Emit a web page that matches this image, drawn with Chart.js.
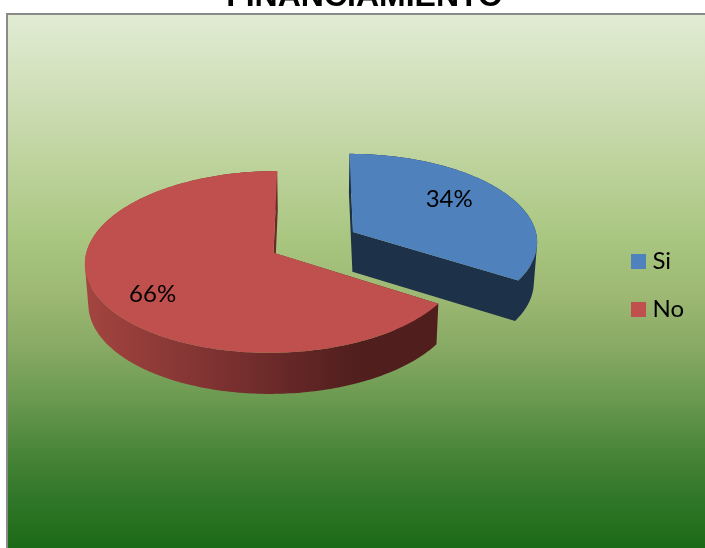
<!DOCTYPE html>
<html>
<head>
<meta charset="utf-8">
<title>Financiamiento</title>
<script src="https://cdn.jsdelivr.net/npm/chart.js@4"></script>
<style>
  html, body { margin: 0; padding: 0; background: #fff; overflow: hidden; }
  #wrap { width: 705px; height: 548px; }
</style>
</head>
<body>
<div id="wrap"><canvas id="pieChart" width="705" height="548"></canvas></div>
<script>
const categories = ['Si', 'No'];
const values = [34, 66];
const topColors = ['#4f81bd', '#c0504d'];

// 3D look of the pie
const EXPLODE = 0.245;     // slices pulled away from the centre, in radii
const PERSPECTIVE = -0.1;
const SQUASH = 0.475;
const DEPTH = 40;
const VIEW_DX = -10.5;     // pie centre relative to the chart area centre
const VIEW_DY = -40;

// small square used as legend marker, so the text sits close to it
function swatch(color) {
  const c = document.createElement('canvas');
  c.width = 15;
  c.height = 15;
  const g = c.getContext('2d');
  g.fillStyle = color;
  g.fillRect(0, 0, 15, 15);
  return c;
}

function project(arc, nx, ny, bottom) {
  const R = arc.outerRadius;
  const d = 1 + PERSPECTIVE * ny;
  const xo = arc.x + VIEW_DX;
  const yo = arc.y + VIEW_DY;
  if (bottom) {
    return [xo + 0.985 * R * nx / d, yo + DEPTH + 1.01 * R * SQUASH * ny / d];
  }
  return [xo + R * nx / d, yo + R * SQUASH * ny / d];
}

function polygon(ctx, pts, fill) {
  ctx.beginPath();
  pts.forEach((p, i) => (i ? ctx.lineTo(p[0], p[1]) : ctx.moveTo(p[0], p[1])));
  ctx.closePath();
  ctx.fillStyle = fill;
  ctx.fill();
}

// all wall pieces go in one path with the same winding, so no seams show and nothing cancels out
function fillQuads(ctx, quads, fill) {
  ctx.beginPath();
  quads.forEach(q => {
    let area = 0;
    q.forEach((p, i) => {
      const n = q[(i + 1) % q.length];
      area += p[0] * n[1] - n[0] * p[1];
    });
    const pts = area < 0 ? q.slice().reverse() : q;
    pts.forEach((p, i) => (i ? ctx.lineTo(p[0], p[1]) : ctx.moveTo(p[0], p[1])));
    ctx.closePath();
  });
  ctx.fillStyle = fill;
  ctx.fill();
}

function sliceCentre(arc) {
  const mid = (arc.startAngle + arc.endAngle) / 2;
  return [EXPLODE * Math.cos(mid), EXPLODE * Math.sin(mid)];
}

function drawSlice(ctx, arc, sideFill) {
  const [ox, oy] = sliceCentre(arc);
  const steps = Math.ceil((arc.endAngle - arc.startAngle) * 180 / Math.PI);
  const rim = [];
  for (let i = 0; i <= steps; i++) {
    const a = arc.startAngle + (arc.endAngle - arc.startAngle) * i / steps;
    rim.push([ox + Math.cos(a), oy + Math.sin(a)]);
  }
  const at = (p, bottom) => project(arc, p[0], p[1], bottom);
  const apex = [ox, oy];
  const first = rim[0];
  const last = rim[rim.length - 1];

  // cut walls and curved wall first, then the top face
  const quads = [
    [at(apex), at(first), at(first, true), at(apex, true)],
    [at(apex), at(last), at(last, true), at(apex, true)]
  ];
  for (let i = 0; i < steps; i++) {
    quads.push([at(rim[i]), at(rim[i + 1]), at(rim[i + 1], true), at(rim[i], true)]);
  }
  fillQuads(ctx, quads, sideFill);
  polygon(ctx, [at(apex)].concat(rim.map(p => at(p))), arc.options.backgroundColor);
}

const pie3d = {
  id: 'pie3d',
  beforeDraw(chart) {
    const { ctx, width, height } = chart;
    const grad = ctx.createLinearGradient(0, 15, 0, height);
    grad.addColorStop(0, '#e1ecd4');
    grad.addColorStop(0.197, '#c9daad');
    grad.addColorStop(0.422, '#a9c680');
    grad.addColorStop(0.535, '#9bb772');
    grad.addColorStop(0.629, '#86a963');
    grad.addColorStop(0.722, '#6a9950');
    grad.addColorStop(0.816, '#4a863a');
    grad.addColorStop(0.91, '#307628');
    grad.addColorStop(1, '#1b6a17');
    ctx.save();
    ctx.fillStyle = grad;
    ctx.fillRect(7, 14, width, height);
    ctx.strokeStyle = '#8a8a8a';
    ctx.lineWidth = 2;
    ctx.strokeRect(7, 14, width + 10, height + 10);
    ctx.restore();
  },
  beforeDatasetDraw(chart, args) {
    const { ctx } = chart;
    const arcs = args.meta.data;
    // shaded walls: flat navy for the blue slice, dark red fading to the right for the other
    const redSide = ctx.createLinearGradient(88, 0, 360, 0);
    redSide.addColorStop(0, '#a3443f');
    redSide.addColorStop(0.45, '#7f3332');
    redSide.addColorStop(1, '#4f1e1d');
    drawSlice(ctx, arcs[0], '#1d3149');
    drawSlice(ctx, arcs[1], redSide);
    return false;
  },
  afterDatasetsDraw(chart) {
    const { ctx } = chart;
    const arcs = chart.getDatasetMeta(0).data;
    const total = values.reduce((a, b) => a + b, 0);
    const nudge = [[-14, -4], [3, 9]];
    ctx.save();
    ctx.font = '24px Lato';
    ctx.fillStyle = '#000';
    ctx.textAlign = 'center';
    ctx.textBaseline = 'middle';
    arcs.forEach((arc, i) => {
      const [ox, oy] = sliceCentre(arc);
      const mid = (arc.startAngle + arc.endAngle) / 2;
      const p = project(arc, ox + 0.72 * Math.cos(mid), oy + 0.72 * Math.sin(mid));
      ctx.fillText(Math.round(values[i] / total * 100) + '%', p[0] + nudge[i][0], p[1] + nudge[i][1]);
    });
    ctx.restore();
  }
};

new Chart(document.getElementById('pieChart'), {
  type: 'pie',
  data: {
    labels: categories,
    datasets: [{ data: values, backgroundColor: topColors, borderWidth: 0 }]
  },
  options: {
    responsive: false,
    animation: false,
    radius: 185,
    layout: { padding: { top: -22, left: 35, right: 11, bottom: -44 } },
    plugins: {
      tooltip: { enabled: false },
      title: {
        display: true,
        text: 'FINANCIAMIENTO',
        color: '#000',
        font: { family: 'Liberation Sans', size: 32, weight: 'bold' },
        padding: 0
      },
      legend: {
        position: 'right',
        labels: {
          color: '#000',
          font: { family: 'Lato', size: 24 },
          usePointStyle: true,
          pointStyleWidth: 3,
          padding: 24,
          generateLabels: () => categories.map((text, i) => ({
            text,
            fontColor: '#000',
            pointStyle: swatch(topColors[i]),
            lineWidth: 0,
            hidden: false,
            index: i
          }))
        }
      }
    }
  },
  plugins: [pie3d]
});
</script>
</body>
</html>
